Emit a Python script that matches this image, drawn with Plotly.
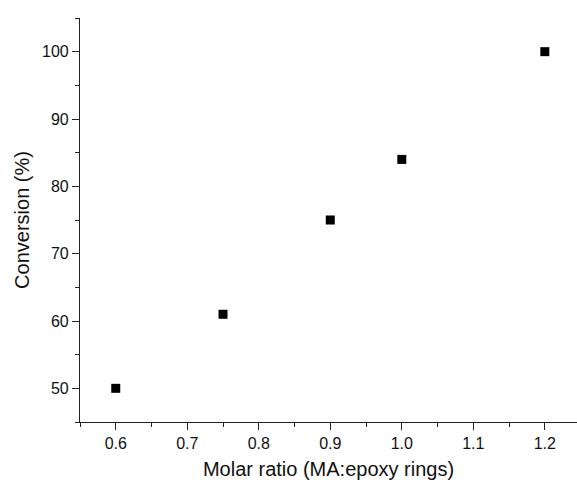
import plotly.graph_objects as go

molar_ratio = [0.6, 0.75, 0.9, 1.0, 1.2]
conversion = [50, 61, 75, 84, 100]

fig = go.Figure()
fig.add_trace(go.Scatter(
    x=molar_ratio, y=conversion, mode="markers",
    marker=dict(symbol="square", size=9, color="black"),
    showlegend=False,
))

font = "Liberation Sans, Arial, sans-serif"
axis_common = dict(
    showline=True, linecolor="#222", linewidth=1.2,
    ticks="outside", ticklen=7, tickwidth=1, tickcolor="#222",
    showgrid=False, zeroline=False, mirror=False,
    tickfont=dict(family=font, size=16, color="#111"),
)
fig.update_xaxes(
    range=[0.55, 1.245], tick0=0.6, dtick=0.1, tickformat=".1f",
    minor=dict(ticks="outside", ticklen=4, dtick=0.05, tick0=0.55, tickcolor="#222"),
    title=dict(text="Molar ratio (MA:epoxy rings)", font=dict(family=font, size=20, color="#111"), standoff=10),
    **axis_common,
)
fig.update_yaxes(
    range=[45, 105], tick0=50, dtick=10,
    minor=dict(ticks="outside", ticklen=4, dtick=5, tick0=45, tickcolor="#222"),
    title=dict(text="Conversion (%)", font=dict(family=font, size=20, color="#111"), standoff=6),
    **axis_common,
)
fig.update_layout(
    width=577, height=484,
    margin=dict(l=80, r=0, t=18, b=62),
    plot_bgcolor="white", paper_bgcolor="white",
)
fig.write_html("out.html")
